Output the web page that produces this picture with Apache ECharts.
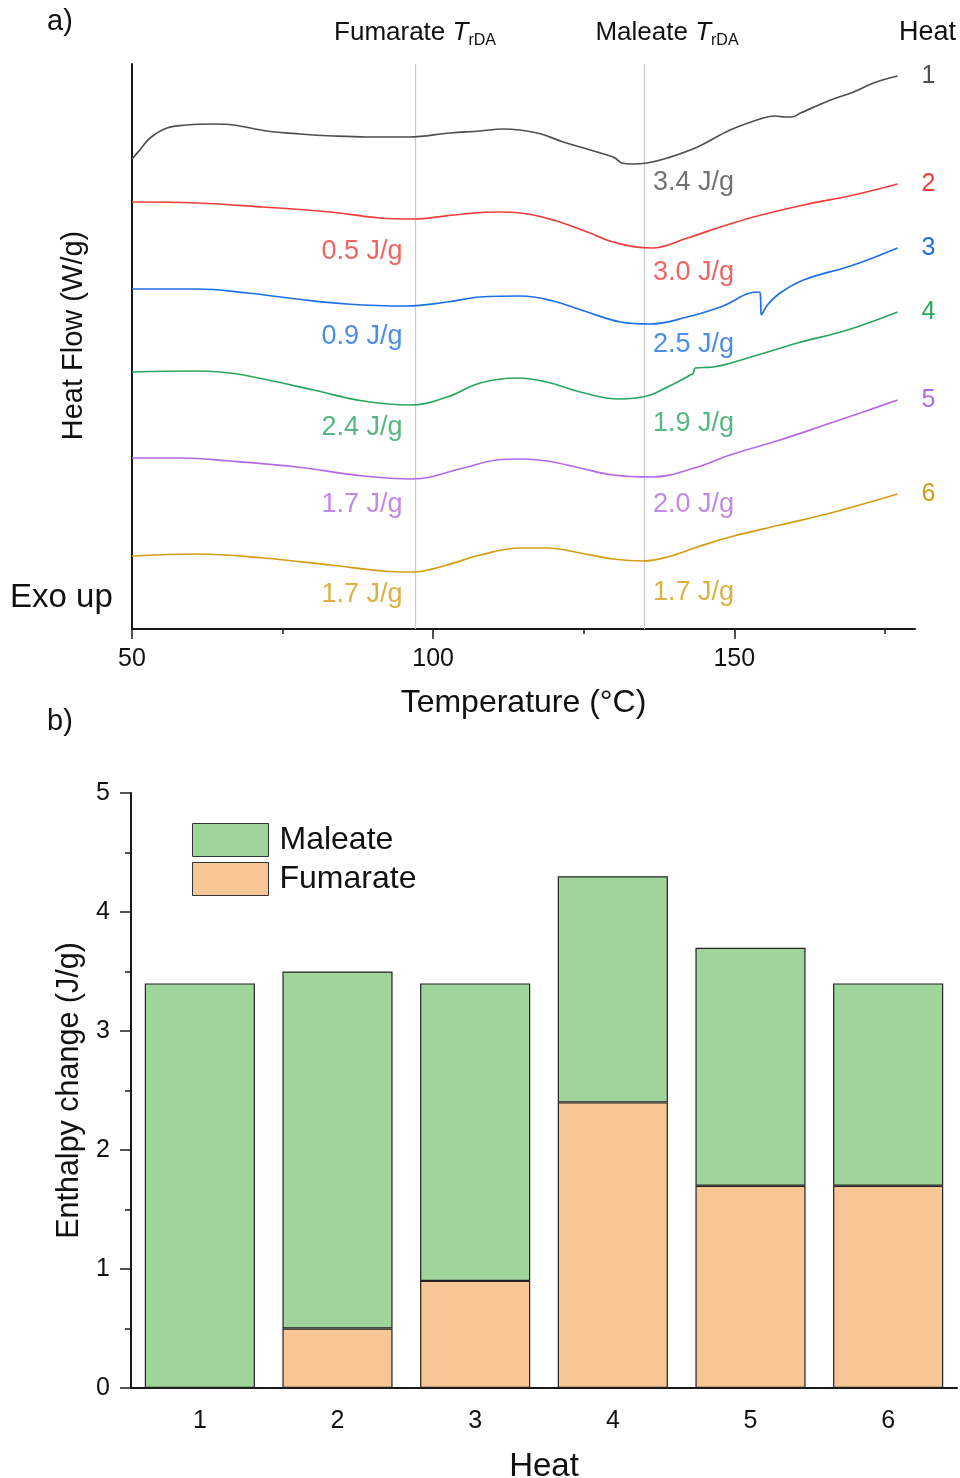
<!DOCTYPE html>
<html><head><meta charset="utf-8">
<script src="https://cdn.jsdelivr.net/npm/echarts@6/dist/echarts.min.js"></script>
<style>html,body{margin:0;padding:0;background:#fff}#c{width:960px;height:1478px}</style>
</head><body><div id="c"></div>
<script>
// ---- panel a: DSC traces (temperature °C, offset heat flow, arbitrary units) ----
const heat1 = [[50,47.0],[51.3,47.9],[53.0,49.1],[55.8,50.1],[59.1,50.4],[63.5,50.5],[66.8,50.4],[72.4,49.8],[77.9,49.5],[83.4,49.3],[89.0,49.2],[96.0,49.2],[102.8,49.6],[107.8,49.8],[111.6,50.0],[117.3,49.6],[121.6,48.7],[124.4,48.2],[128.9,47.4],[130.2,47.1],[131.3,46.6],[133.0,46.5],[135.5,46.6],[138.9,47.1],[143.9,48.2],[149.3,49.9],[154.8,51.1],[156.8,51.3],[158.4,51.2],[159.5,51.2],[161.0,51.6],[166.0,52.9],[169.8,53.7],[173.1,54.6],[177.1,55.3]];
const heat2 = [[50,42.7],[60.8,42.6],[71.8,42.2],[82.9,41.7],[91.2,41.1],[96.5,41.0],[105.0,41.5],[110.6,41.7],[114.5,41.6],[119.9,40.9],[125.6,39.7],[129.9,38.7],[136.3,38.1],[142.2,39.1],[147.7,40.2],[153.2,41.2],[161.5,42.4],[169.8,43.4],[177.1,44.5]];
const heat3 = [[50,34.0],[60.8,34.0],[69.1,33.6],[77.4,33.0],[85.7,32.5],[95.5,32.3],[102.3,32.7],[107.8,33.2],[114.5,33.3],[119.9,32.8],[125.6,31.7],[131.1,30.7],[136.0,30.5],[142.2,31.2],[147.7,32.2],[154.0,33.7],[154.3,33.6],[154.5,31.4],[155.5,32.4],[157.6,33.6],[161.5,34.9],[169.8,36.4],[177.1,38.1]];
const heat4 = [[50,25.7],[60.8,25.8],[66.3,25.6],[71.8,25.0],[80.1,23.9],[88.4,22.8],[96.2,22.4],[102.3,23.2],[107.8,24.6],[114.0,25.1],[118.9,24.7],[124.4,23.7],[131.0,23.0],[135.5,23.3],[138.9,24.2],[142.7,25.4],[143.2,25.6],[143.5,26.1],[146.5,26.2],[152.2,27.1],[160.5,28.6],[168.8,29.9],[177.1,31.7]];
const heat5 = [[50,17.1],[58.0,17.1],[66.3,16.8],[77.4,16.2],[88.4,15.3],[96.5,15.0],[105.0,16.1],[110.6,16.9],[114.5,17.0],[118.9,16.8],[124.4,16.1],[129.9,15.4],[136.3,15.2],[143.9,16.2],[149.3,17.4],[157.6,18.9],[166.0,20.6],[171.4,21.7],[177.1,22.9]];
const heat6 = [[50,7.3],[60.8,7.5],[71.8,7.1],[82.9,6.4],[91.7,5.8],[96.5,5.7],[102.3,6.4],[107.8,7.4],[114.5,8.1],[118.9,8.1],[124.4,7.6],[129.9,7.0],[134.9,6.8],[138.9,7.2],[143.9,8.2],[149.3,9.2],[157.6,10.4],[166.0,11.6],[177.1,13.5]];
const transitionTemps = [97, 135];          // Fumarate / Maleate T_rDA guide lines
const xTickLabels = [50, 100, 150];
const xMinorTicks = [75, 125, 175];

// ---- panel b: enthalpy change (J/g) ----
const heats = ['1','2','3','4','5','6'];
const maleate = [3.4, 3.0, 2.5, 1.9, 2.0, 1.7];
const fumarate = [0, 0.5, 0.9, 2.4, 1.7, 1.7];

// annotation anchors (data units of panel a)
const fumLabelY = [null, 37.7, 29.2, 20.1, 12.4, 3.4];
const malLabelY = [44.6, 35.6, 28.4, 20.5, 12.4, 3.6];
const fumLabelT = 95.0, malLabelT = 136.4;

const curves = [heat1, heat2, heat3, heat4, heat5, heat6];
const colors = ['#4f4f4f', '#f03c3c', '#1f6fe5', '#2aa561', '#b46ae6', '#d39c12'];
const FONT = '"Liberation Sans", Arial, Helvetica, sans-serif';
const AX = '#1a1a1a';

const series = [];
curves.forEach((c, i) => {
  series.push({
    type: 'line', name: 'Heat ' + heats[i], xAxisIndex: 0, yAxisIndex: 0,
    data: c, showSymbol: false, smooth: 0.4, silent: true,
    lineStyle: { color: colors[i], width: 1.7 }, z: 3,
    endLabel: { show: true, formatter: heats[i], color: colors[i], fontSize: 25, fontFamily: FONT, distance: 24 },
    markLine: i === 0 ? {
      silent: true, symbol: 'none', label: { show: false }, z: 1,
      lineStyle: { color: '#c9c9c9', width: 1.2, type: 'solid' },
      data: transitionTemps.map(t => ({ xAxis: t }))
    } : undefined
  });
  const lab = [];
  if (fumarate[i] > 0 && fumLabelY[i] != null) {
    lab.push({ value: [fumLabelT, fumLabelY[i]], label: { position: 'left', formatter: fumarate[i].toFixed(1) + ' J/g' } });
  }
  lab.push({ value: [malLabelT, malLabelY[i]], label: { position: 'right', formatter: maleate[i].toFixed(1) + ' J/g' } });
  series.push({
    type: 'scatter', xAxisIndex: 0, yAxisIndex: 0, data: lab, symbolSize: 1, silent: true,
    itemStyle: { color: 'transparent' },
    label: { show: true, distance: 0, color: colors[i], fontSize: 27, fontFamily: FONT }
  });
});

series.push({
  type: 'bar', name: 'Fumarate', xAxisIndex: 2, yAxisIndex: 1, stack: 'h', data: fumarate,
  barWidth: '80%', itemStyle: { color: '#f7c695', borderColor: '#222', borderWidth: 1.2 }
});
series.push({
  type: 'bar', name: 'Maleate', xAxisIndex: 2, yAxisIndex: 1, stack: 'h', data: maleate,
  barWidth: '80%', itemStyle: { color: '#9fd59b', borderColor: '#222', borderWidth: 1.2 }
});

const sub = (main) => '{a|' + main + ' }{i|T}{s|rDA}';
const rich = {
  a: { fontSize: 26, lineHeight: 32, fontFamily: FONT, fill: '#111' },
  i: { fontSize: 26, lineHeight: 32, fontStyle: 'italic', fontFamily: FONT, fill: '#111' },
  s: { fontSize: 16, lineHeight: 12, verticalAlign: 'bottom', fontFamily: FONT, fill: '#111' }
};

const option = {
  animation: false,
  textStyle: { fontFamily: FONT },
  grid: [
    { left: 132, top: 64, width: 783, height: 565, outerBoundsMode: 'none', containLabel: false },
    { left: 131, top: 793, width: 826, height: 595, outerBoundsMode: 'none', containLabel: false }
  ],
  xAxis: [
    { type: 'value', gridIndex: 0, min: 50, max: 180,
      name: 'Temperature (°C)', nameLocation: 'middle', nameGap: 58,
      nameTextStyle: { fontSize: 32, color: '#111', fontFamily: FONT },
      axisLine: { lineStyle: { color: AX, width: 2 } },
      axisTick: { show: true, length: 10, customValues: xTickLabels, lineStyle: { color: AX, width: 1.5 } },
      axisLabel: { customValues: xTickLabels, fontSize: 25, color: '#111', margin: 18, fontFamily: FONT },
      splitLine: { show: false } },
    { type: 'value', gridIndex: 0, min: 50, max: 180, position: 'bottom',
      axisLine: { show: false },
      axisTick: { show: true, length: 5, customValues: xMinorTicks, lineStyle: { color: AX, width: 1.5 } },
      axisLabel: { show: false }, splitLine: { show: false } },
    { type: 'category', gridIndex: 1, data: heats, boundaryGap: true,
      name: 'Heat', nameLocation: 'middle', nameGap: 62,
      nameTextStyle: { fontSize: 33, color: '#111', fontFamily: FONT },
      axisLine: { lineStyle: { color: AX, width: 2 } },
      axisTick: { alignWithLabel: true, length: 11, lineStyle: { color: AX, width: 1.5 } },
      axisLabel: { fontSize: 25, color: '#111', margin: 21, fontFamily: FONT } },
    { type: 'category', gridIndex: 1, data: heats, boundaryGap: true, position: 'bottom',
      axisLine: { show: false },
      axisTick: { alignWithLabel: false, length: 5, lineStyle: { color: AX, width: 1.5 } },
      axisLabel: { show: false } }
  ],
  yAxis: [
    { type: 'value', gridIndex: 0, min: 0, max: 56.5,
      name: 'Heat Flow (W/g)', nameLocation: 'middle', nameGap: 44,
      nameTextStyle: { fontSize: 29, color: '#111', fontFamily: FONT, padding: [0, 0, 0, 22] },
      axisLine: { show: true, lineStyle: { color: AX, width: 2 } },
      axisTick: { show: false }, axisLabel: { show: false }, splitLine: { show: false } },
    { type: 'value', gridIndex: 1, min: 0, max: 5, interval: 1,
      name: 'Enthalpy change (J/g)', nameLocation: 'middle', nameGap: 46,
      nameTextStyle: { fontSize: 30.5, color: '#111', fontFamily: FONT },
      axisLine: { show: true, lineStyle: { color: AX, width: 2 } },
      axisTick: { show: true, length: 11, lineStyle: { color: AX, width: 1.5 } },
      minorTick: { show: true, splitNumber: 2, length: 6, lineStyle: { color: AX, width: 1.5 } },
      axisLabel: { fontSize: 25, color: '#111', margin: 21, fontFamily: FONT },
      splitLine: { show: false } }
  ],
  legend: {
    data: ['Maleate', 'Fumarate'], orient: 'vertical', left: 192, top: 823, padding: 0,
    itemWidth: 76, itemHeight: 33, itemGap: 5, icon: 'rect',
    itemStyle: { borderColor: '#333', borderWidth: 1 },
    textStyle: { fontSize: 32, color: '#111', fontFamily: FONT, padding: [0, 0, 0, 6] }
  },
  graphic: [
    { type: 'text', x: 47, y: 22, style: { text: 'a)', font: '29px ' + FONT, fill: '#111', verticalAlign: 'middle' } },
    { type: 'text', x: 47, y: 722, style: { text: 'b)', font: '29px ' + FONT, fill: '#111', verticalAlign: 'middle' } },
    { type: 'text', x: 415, y: 33, style: { text: sub('Fumarate'), rich: rich, align: 'center', verticalAlign: 'middle' } },
    { type: 'text', x: 667, y: 33, style: { text: sub('Maleate'), rich: rich, align: 'center', verticalAlign: 'middle' } },
    { type: 'text', x: 956, y: 33, style: { text: 'Heat', font: '27px ' + FONT, fill: '#111', align: 'right', verticalAlign: 'middle' } },
    { type: 'text', x: 10, y: 598, style: { text: 'Exo up', font: '33px ' + FONT, fill: '#111', verticalAlign: 'middle' } }
  ],
  series: series
};
const chart = echarts.init(document.getElementById('c'), null, { renderer: 'canvas' });
chart.setOption(option);
</script></body></html>
